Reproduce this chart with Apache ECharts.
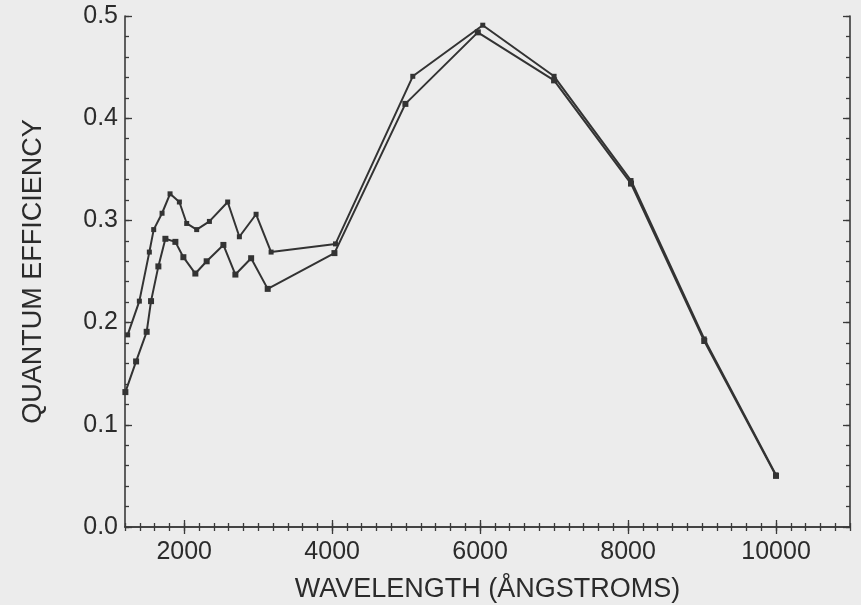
<!DOCTYPE html>
<html>
<head>
<meta charset="utf-8">
<script src="https://cdn.jsdelivr.net/npm/echarts@6/dist/echarts.min.js"></script>
<style>
html,body{margin:0;padding:0;background:#ececec;}
#chart{width:861px;height:605px;}
</style>
</head>
<body>
<div id="chart"></div>
<script>
// Wavelength (Å) and quantum efficiency
var upperWavelength = [1236, 1394, 1529, 1588, 1701, 1809, 1935, 2034, 2169, 2341, 2588, 2746, 2972, 3175, 4045, 5090, 6036, 7000, 8040, 9030, 10000];
var upperQE        = [0.188, 0.221, 0.269, 0.291, 0.307, 0.326, 0.318, 0.297, 0.291, 0.299, 0.318, 0.284, 0.306, 0.269, 0.277, 0.441, 0.491, 0.441, 0.339, 0.184, 0.051];
var lowerWavelength = [1205, 1350, 1493, 1552, 1651, 1746, 1881, 1989, 2151, 2304, 2530, 2692, 2905, 3129, 4031, 4990, 5969, 7000, 8040, 9030, 10000];
var lowerQE        = [0.132, 0.162, 0.191, 0.221, 0.255, 0.282, 0.279, 0.264, 0.248, 0.260, 0.276, 0.247, 0.263, 0.233, 0.268, 0.414, 0.484, 0.437, 0.336, 0.182, 0.050];
var xTickLabels = [2000, 4000, 6000, 8000, 10000];
var yTickLabels = [0.0, 0.1, 0.2, 0.3, 0.4, 0.5];
var xMin = 1200, xMax = 11000;

function pairs(xs, ys){ return xs.map(function(x,i){ return [x, ys[i]]; }); }

var ink = '#2b2b2b';
var font = 'Liberation Sans, Arial, Helvetica, sans-serif';

function xAx(pos, major, showLabel, showLine){
  var a = {
    type:'value', position:pos, min:xMin, max:xMax,
    axisLine:{show:showLine, lineStyle:{color:'#3a3a3a', width:1.6}},
    splitLine:{show:false},
    axisTick:{show:true, inside:true, length: major ? 7 : 4, lineStyle:{color:'#3a3a3a', width:1.3}},
    axisLabel:{show:false}
  };
  if (major){
    a.axisTick.customValues = xTickLabels;
    a.axisLabel = {show:showLabel, customValues:xTickLabels, color:ink, fontSize:25, fontFamily:font, margin:13,
      formatter:function(v){ return String(v); }};
  } else {
    a.interval = 200;
  }
  return a;
}
function yAx(pos, major, showLabel, showLine){
  var a = {
    type:'value', position:pos, min:0, max:0.5, interval: major ? 0.1 : 0.02,
    axisLine:{show:showLine, lineStyle:{color:'#3a3a3a', width:1.6}},
    splitLine:{show:false},
    axisTick:{show:true, inside:true, length: major ? 7 : 4, lineStyle:{color:'#3a3a3a', width:1.3}},
    axisLabel:{show:showLabel, color:ink, fontSize:25, fontFamily:font, margin:7,
      formatter:function(v){ return v.toFixed(1); }}
  };
  return a;
}

var xAxes = [xAx('bottom', true, true, true), xAx('bottom', false, false, false), xAx('top', true, false, true), xAx('top', false, false, false)];
xAxes[0].name = 'WAVELENGTH (ÅNGSTROMS)';
xAxes[0].nameLocation = 'middle';
xAxes[0].nameGap = 49;
xAxes[0].nameTextStyle = {color:ink, fontSize:27, fontFamily:font};

var yAxes = [yAx('left', true, true, true), yAx('left', false, false, false), yAx('right', true, false, true), yAx('right', false, false, false)];
yAxes[0].name = 'QUANTUM EFFICIENCY';
yAxes[0].nameLocation = 'middle';
yAxes[0].nameGap = 78;
yAxes[0].nameTextStyle = {color:ink, fontSize:27, fontFamily:font};

var chart = echarts.init(document.getElementById('chart'), null, {renderer:'canvas'});
chart.setOption({
  backgroundColor:'#ececec',
  animation:false,
  grid:{left:125, right:11, top:16, bottom:78, containLabel:false, outerBoundsMode:'none'},
  xAxis: xAxes,
  yAxis: yAxes,
  series:[
    {type:'line', name:'upper', xAxisIndex:0, yAxisIndex:0, data:pairs(upperWavelength, upperQE),
     symbol:'rect', symbolSize:5, showAllSymbol:true,
     lineStyle:{color:'#333', width:2}, itemStyle:{color:'#333'}},
    {type:'line', name:'lower', xAxisIndex:0, yAxisIndex:0, data:pairs(lowerWavelength, lowerQE),
     symbol:'rect', symbolSize:6, showAllSymbol:true,
     lineStyle:{color:'#333', width:2}, itemStyle:{color:'#333'}}
  ]
});
</script>
</body>
</html>
